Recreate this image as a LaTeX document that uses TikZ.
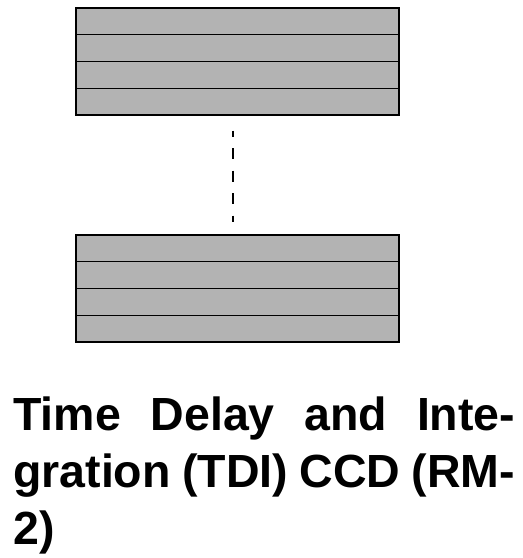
\documentclass[tikz,border=0pt]{standalone}
\usepackage{fontspec}
\setmainfont{Liberation Sans}
\usepackage{tikz}
\usepackage{xcolor}
\definecolor{cellgray}{RGB}{179,179,179}

\begin{document}
\begin{tikzpicture}[x=1pt, y=-1pt,
  cell/.style={rectangle, draw=black, line width=1.3pt, fill=cellgray, minimum width=323pt, minimum height=26.75pt, inner sep=0pt},
  gap/.style={line width=1.5pt, dash pattern=on 11pt off 11.5pt, dash phase=5pt}
]
\useasboundingbox (0,0) rectangle (523,558);

% upper register
\node[cell] (top1) at (237.5,21.4) {};
\node[cell] (top2) at (237.5,48.1) {};
\node[cell] (top3) at (237.5,74.9) {};
\node[cell] (top4) at (237.5,101.6) {};

% lower register
\node[cell] (bot1) at (237.5,248.4) {};
\node[cell] (bot2) at (237.5,275.1) {};
\node[cell] (bot3) at (237.5,301.9) {};
\node[cell] (bot4) at (237.5,328.6) {};

\draw[gap] ([xshift=-4.5pt, yshift=-15pt]top4.south) -- ([xshift=-4.5pt, yshift=12pt]bot1.north);

\node[anchor=base west, inner sep=0pt, text width=502pt, align=justify,
      font=\fontsize{46.5}{57}\selectfont\bfseries] (title) at (13,430)
  {\hyphenpenalty=10000 \exhyphenpenalty=10000 Time Delay and Integration (TDI) CCD (RM-2)};

\end{tikzpicture}
\end{document}
